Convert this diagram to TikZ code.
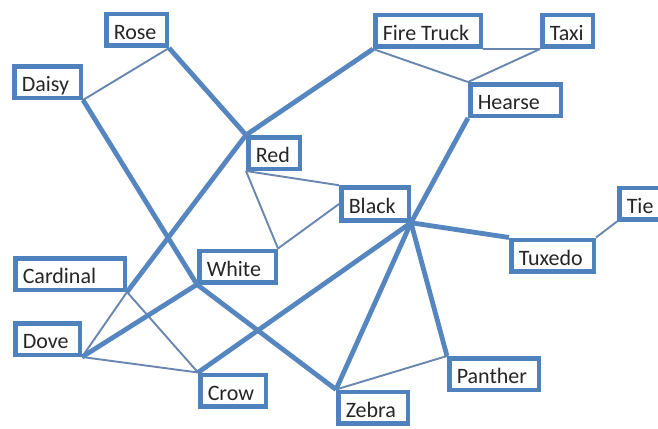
\documentclass[tikz,border=0pt]{standalone}
\usepackage{fontspec}
\setmainfont{Carlito}
\definecolor{boxblue}{RGB}{79,129,189}
\definecolor{linkblue}{RGB}{86,134,192}
\definecolor{thinblue}{RGB}{104,134,176}
\definecolor{txt}{RGB}{38,38,38}
\newcommand{\bxt}[2]{\makebox[#1pt][l]{#2}}
\begin{document}
\begin{tikzpicture}[x=1pt,y=-1pt,
  box/.style={draw=boxblue, line width=4.5pt, fill=white, inner xsep=7.5pt, inner ysep=0pt,
    minimum height=31.5pt, text height=19pt, text depth=0pt, text=txt,
    font=\fontsize{22}{24}\selectfont},
  thick link/.style={draw=linkblue, line width=4.8pt},
  thin link/.style={draw=thinblue, line width=1.9pt}]
\useasboundingbox (0,0) rectangle (658,428);
\node[box] (rose) at (136.5,30) {\bxt{45.5}{Rose}};
\node[box] (daisy) at (47.5,82) {\bxt{51.5}{Daisy}};
\node[box] (red) at (274,153) {\bxt{36.5}{Red}};
\node[box] (fire) at (428,31) {\bxt{90.5}{Fire Truck}};
\node[box] (taxi) at (567.5,31) {\bxt{35.5}{Taxi}};
\node[box] (hearse) at (515.5,100) {\bxt{75.5}{Hearse}};
\node[box, minimum height=33pt] (black) at (375,204) {\bxt{52.5}{Black}};
\node[box] (tie) at (645.25,203.5) {\bxt{37}{Tie}};
\node[box] (cardinal) at (70,274) {\bxt{94.5}{Cardinal}};
\node[box] (white) at (237.5,266.5) {\bxt{61.5}{White}};
\node[box] (dove) at (47.5,339) {\bxt{49.5}{Dove}};
\node[box] (crow) at (233,390.5) {\bxt{50.5}{Crow}};
\node[box] (tuxedo) at (552.5,255.5) {\bxt{67.5}{Tuxedo}};
\node[box] (panther) at (494,374) {\bxt{74.5}{Panther}};
\node[box] (zebra) at (373,407.5) {\bxt{54.5}{Zebra}};
% thin links
\draw[thin link] (rose.south east) -- (daisy.south east);
\draw[thin link] (red.south west) -- (black.north west);
\draw[thin link] (red.south west) -- (white.north east);
\draw[thin link] (white.north east) -- (black.west);
\draw[thin link] (fire.south west) -- (hearse.north west);
\draw[thin link] (fire.south east) -- (taxi.south west);
\draw[thin link] (taxi.south west) -- (hearse.north west);
\draw[thin link] (tuxedo.north east) -- (tie.south west);
\draw[thin link] (zebra.north west) -- (panther.north west);
\draw[thin link] (cardinal.south east) -- (dove.south east);
\draw[thin link] (cardinal.south east) -- (crow.north west);
\draw[thin link] (dove.south east) -- (crow.north west);
% thick links
\draw[thick link] (rose.south east) -- (red.north west);
\draw[thick link] (daisy.south east) -- (white.south west);
\draw[thick link] (white.south west) -- (zebra.north west);
\draw[thick link] (red.north west) -- (fire.south west);
\draw[thick link] (red.north west) -- (cardinal.south east);
\draw[thick link] (hearse.south west) -- (black.south east);
\draw[thick link] (black.south east) -- (tuxedo.north west);
\draw[thick link] (black.south east) -- (panther.north west);
\draw[thick link] (black.south east) -- (zebra.north west);
\draw[thick link] (black.south east) -- (crow.north west);
\draw[thick link] (dove.south east) -- (white.south west);
\end{tikzpicture}
\end{document}
